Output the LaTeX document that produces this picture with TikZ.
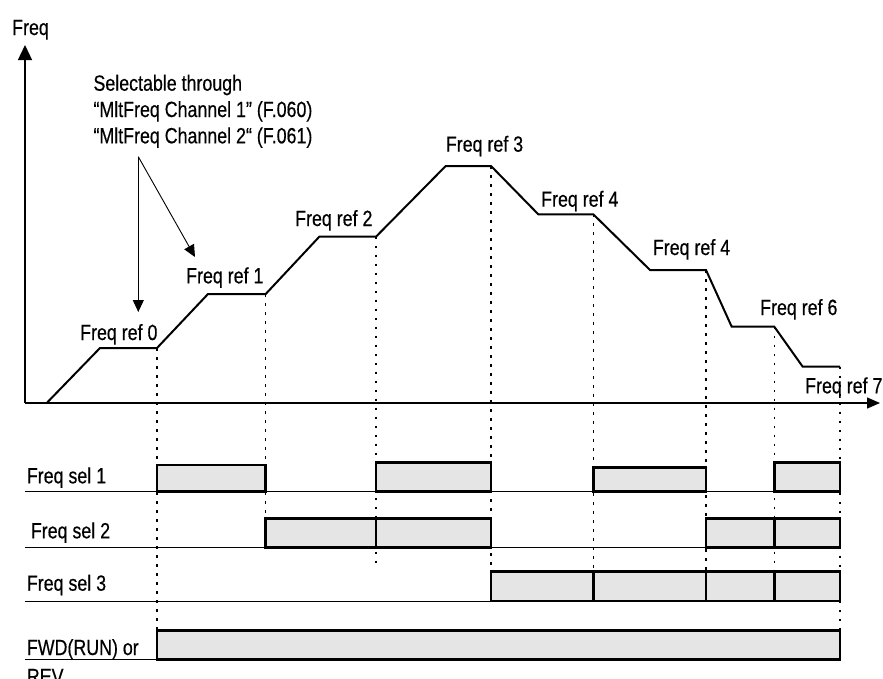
\documentclass[tikz,border=0pt]{standalone}
\usepackage{fontspec}
\setmainfont[FakeStretch=0.81,FakeBold=0.4]{Liberation Sans}
\usetikzlibrary{arrows.meta}
\begin{document}
\begin{tikzpicture}[x=1pt,y=-1pt,
  lbl/.style={anchor=base west,inner sep=0pt,font=\fontsize{22}{26.5}\selectfont},
  curve/.style={line width=2pt,line join=miter},
  axis/.style={line width=1.3pt},
  guide/.style={line width=1.3pt,dash pattern=on 2.5pt off 6.5pt},
  sigbox/.style={draw,line width=2.6pt,fill=black!10},
  base/.style={line width=1pt},
  note/.style={line width=0.9pt,-{Triangle[length=12pt,width=11pt]}}]
\useasboundingbox (0,0) rectangle (883,678);
% axes
\coordinate (o) at (25,403);
\coordinate (ytip) at (25,45);
\coordinate (xtip) at (880,403);
\draw[axis,-{Triangle[length=15pt,width=14pt]}] (o) -- (ytip);
\draw[axis,-{Triangle[length=13pt,width=11pt]}] (o) -- (xtip);
\node[lbl] (freq) at (12,35) {Freq};
% curve points
\coordinate (c0) at (46.7,403);
\coordinate (p0a) at (100,348);   \coordinate (p0b) at (157,348);
\coordinate (p1a) at (208,294);   \coordinate (p1b) at (265.7,294);
\coordinate (p2a) at (319.3,236.7); \coordinate (p2b) at (376,236.7);
\coordinate (p3a) at (445.7,166); \coordinate (p3b) at (491,166);
\coordinate (p4a) at (538.3,214.3); \coordinate (p4b) at (593.3,214.3);
\coordinate (p5a) at (650,270);   \coordinate (p5b) at (706,270);
\coordinate (p6a) at (731.7,326.7); \coordinate (p6b) at (774.3,326.7);
\coordinate (p7a) at (802.7,366.7); \coordinate (p7b) at (840,366.7);
\draw[curve] (c0) -- (p0a) -- (p0b) -- (p1a) -- (p1b) -- (p2a) -- (p2b) -- (p3a) -- (p3b)
  -- (p4a) -- (p4b) -- (p5a) -- (p5b) -- (p6a) -- (p6b) -- (p7a) -- (p7b);
% curve labels
\node[lbl] (r0) at (80,340) {Freq ref 0};
\node[lbl] (r1) at (186,283.3) {Freq ref 1};
\node[lbl] (r2) at (295,226) {Freq ref 2};
\node[lbl] (r3) at (445.7,151.7) {Freq ref 3};
\node[lbl] (r4) at (541,206.7) {Freq ref 4};
\node[lbl] (r5) at (652.7,255) {Freq ref 4};
\node[lbl] (r6) at (760,315) {Freq ref 6};
\node[lbl] (r7) at (805,393.3) {Freq ref 7};
% note
\node[lbl] (n1) at (93.3,90.7) {Selectable through};
\node[lbl] (n2) at (93.3,117) {“MltFreq Channel 1” (F.060)};
\node[lbl] (n3) at (93.3,143.3) {“MltFreq Channel 2“ (F.061)};
\coordinate (nv) at (138.3,156.7);
\coordinate (t0) at (138.3,312);
\coordinate (t1) at (195,257);
\draw[note] (nv) -- (t0);
\draw[note] (nv) -- (t1);
% guide lines
\coordinate (g0) at (157,630.7);
\coordinate (g1) at (265.7,518.3);
\coordinate (g2) at (376,564);
\coordinate (g3) at (491,571.7);
\coordinate (g4) at (593.3,571.7);
\coordinate (g5) at (706,571.7);
\coordinate (g6) at (774.3,571.7);
\coordinate (g7) at (840,630.7);
\draw[guide] (p0b) -- (g0);
\draw[guide] (p1b) -- (g1);
\draw[guide] (p2b) -- (g2);
\draw[guide] (p3b) -- (g3);
\draw[guide] (p4b) -- (g4);
\draw[guide] (p5b) -- (g5);
\draw[guide] (p6b) -- (g6);
\draw[guide] (p7b) -- (g7);
% signal rows
\node[lbl] (s1) at (26.7,483.3) {Freq sel 1};
\node[lbl] (s2) at (30.7,538.3) {Freq sel 2};
\node[lbl] (s3) at (26.7,590.7) {Freq sel 3};
\node[lbl] (s4) at (26.7,655) {FWD(RUN) or};
\node[lbl] (s5) at (26.7,684) {REV};
\draw[base] (25,491.7) -- (840,491.7);
\draw[base] (25,547.3) -- (840,547.3);
\draw[base] (25,601) -- (840,601);
\draw[base] (25,659.3) -- (840,659.3);
% sel 1
\draw[sigbox] (157,465) rectangle (265.7,491.7);
\draw[sigbox] (376,462.7) rectangle (491,491.7);
\draw[sigbox] (593.3,467.3) rectangle (706,491.7);
\draw[sigbox] (774.3,462.3) rectangle (840,491.7);
% sel 2
\draw[sigbox] (265.7,518.3) rectangle (376,547.3);
\draw[sigbox] (376,518.3) rectangle (491,547.3);
\draw[sigbox] (706,518.3) rectangle (774.3,547.3);
\draw[sigbox] (774.3,518.3) rectangle (840,547.3);
% sel 3
\draw[sigbox] (491,571.7) rectangle (593.3,601);
\draw[sigbox] (593.3,571.7) rectangle (706,601);
\draw[sigbox] (706,571.7) rectangle (774.3,601);
\draw[sigbox] (774.3,571.7) rectangle (840,601);
% run
\draw[sigbox] (157,630.7) rectangle (840,659.3);
\end{tikzpicture}
\end{document}
